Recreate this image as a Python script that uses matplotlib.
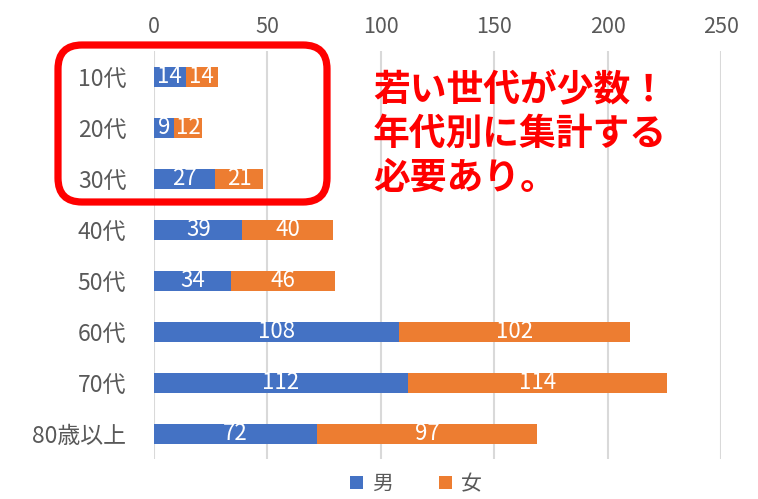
import numpy as np
import matplotlib.pyplot as plt
from matplotlib.patches import FancyBboxPatch
from matplotlib.transforms import IdentityTransform

plt.rcParams['font.family'] = ['Noto Sans CJK JP', 'DejaVu Sans']

# Data
categories = ['10代', '20代', '30代', '40代', '50代', '60代', '70代', '80歳以上']
male = [14, 9, 27, 39, 34, 108, 112, 72]
female = [14, 12, 21, 40, 46, 102, 114, 97]
seriesNames = ['男', '女']

blue = '#4472C4'
orange = '#ED7D31'
gray = '#595959'

W, H = 758, 499
fig = plt.figure(figsize=(W / 100, H / 100), dpi=100)
ax = fig.add_axes([0.2032, 0.0792, 0.748, 0.8176])

y = np.arange(len(categories))
barsM = ax.barh(y, male, 0.4, color=blue, label=seriesNames[0], zorder=3)
barsF = ax.barh(y, female, 0.4, left=male, color=orange, label=seriesNames[1], zorder=3)

# value labels inside bars
for bars in (barsM, barsF):
    for rect in bars:
        w = rect.get_width()
        ax.text(rect.get_x() + w / 2, rect.get_y() + rect.get_height() / 2, str(int(w)),
                ha='center', va='center', color='white', fontsize=16, zorder=4)

ax.set_ylim(len(categories) - 0.5, -0.5)
ax.set_xlim(0, 250)
ax.set_xticks(np.arange(0, 251, 50))
ax.set_yticks(y)
ax.set_yticklabels(categories)
ax.xaxis.tick_top()
ax.tick_params(axis='x', length=0, labelsize=15.5, labelcolor=gray, pad=10)
ax.tick_params(axis='y', length=0, labelsize=16.5, labelcolor=gray, pad=20)
ax.grid(axis='x', color='#D9D9D9', linewidth=1.5, zorder=0)
for s in ax.spines.values():
    s.set_visible(False)

# legend at the bottom
fig.legend(loc='lower center', bbox_to_anchor=(0.549, -0.03), ncol=2, frameon=False,
           fontsize=15, labelcolor=gray, handlelength=0.6, handleheight=0.6,
           handletextpad=0.45, columnspacing=2.2)

# red rounded box around the young groups (pixel coordinates)
box = FancyBboxPatch((58, H - 202), 269, 157,
                     boxstyle='round,pad=0,rounding_size=24',
                     transform=IdentityTransform(), fill=False, edgecolor='#FF0000',
                     linewidth=5.2, zorder=10)
fig.patches.append(box)

fig.text(373 / W, 1 - 72 / H, '若い世代が少数！\n年代別に集計する\n必要あり。',
         color='#FF0000', fontsize=26.5, fontweight='bold', va='top', ha='left',
         linespacing=1.24)

plt.savefig('out.png', dpi=100)
